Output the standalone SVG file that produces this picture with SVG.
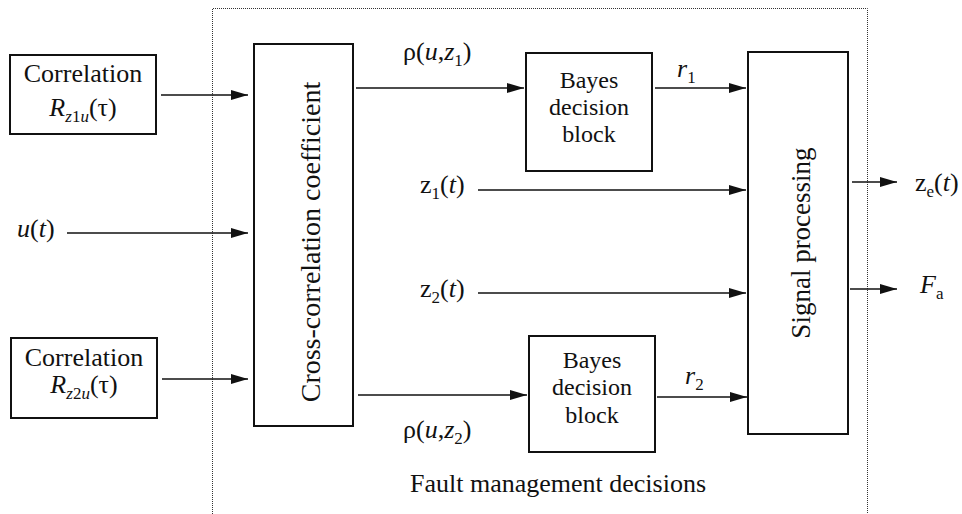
<svg xmlns="http://www.w3.org/2000/svg" width="962" height="514" viewBox="0 0 962 514">
<style>
.t26{font-size:26px;}
.t24{font-size:24px;}
.it{font-style:italic;}
.sub{font-size:17px;}
.box{fill:#fff;stroke:#111;stroke-width:2;}
.con{stroke:#111;stroke-width:1.4;fill:none;marker-end:url(#ah);}
.frame{stroke:#333;stroke-width:1;fill:none;stroke-dasharray:1 1;}
</style>
<defs>
<marker id="ah" markerUnits="userSpaceOnUse" markerWidth="17" markerHeight="10" refX="17" refY="5" orient="auto">
<path d="M0,0 L17,5 L0,10 Z" fill="#111"/>
</marker>
</defs>
<g font-family="'Liberation Serif', 'Times New Roman', Times, serif" fill="#111">
<g id="frame">
<path class="frame" d="M212.5,514 V8.5 H867.5 V514"/>
<text class="t26" x="558" y="492" text-anchor="middle">Fault management decisions</text>
</g>
<g id="connectors">
<line class="con" x1="161" y1="95" x2="248" y2="95"/>
<line class="con" x1="67" y1="233" x2="248" y2="233"/>
<line class="con" x1="162" y1="379" x2="248" y2="379"/>
<line class="con" x1="356" y1="88" x2="524" y2="88"/>
<line class="con" x1="655" y1="88" x2="746" y2="88"/>
<line class="con" x1="478" y1="190" x2="746" y2="190"/>
<line class="con" x1="478" y1="293" x2="746" y2="293"/>
<line class="con" x1="358" y1="395" x2="527" y2="395"/>
<line class="con" x1="657" y1="397" x2="747" y2="397"/>
<line class="con" x1="852" y1="182" x2="897" y2="182"/>
<line class="con" x1="850" y1="289" x2="897" y2="289"/>
</g>
<g id="corr1">
<rect class="box" x="10" y="55" width="146" height="79"/>
<text class="t26" x="83" y="82" text-anchor="middle">Correlation</text>
<text class="t26" x="83" y="116" text-anchor="middle"><tspan class="it">R</tspan><tspan class="sub it" dy="6">z</tspan><tspan class="sub">1</tspan><tspan class="sub it">u</tspan><tspan dy="-6">(τ)</tspan></text>
</g>
<g id="corr2">
<rect class="box" x="11" y="338" width="146" height="80"/>
<text class="t26" x="84" y="366" text-anchor="middle">Correlation</text>
<text class="t26" x="84" y="393" text-anchor="middle"><tspan class="it">R</tspan><tspan class="sub it" dy="6">z</tspan><tspan class="sub">2</tspan><tspan class="sub it">u</tspan><tspan dy="-6">(τ)</tspan></text>
</g>
<g id="input-u">
<text class="t26" x="17" y="237"><tspan class="it">u</tspan>(<tspan class="it">t</tspan>)</text>
</g>
<g id="crosscorr">
<rect class="box" x="254" y="44" width="99" height="382"/>
<text x="320" y="242" text-anchor="middle" transform="rotate(-90 320 242)" font-size="28">Cross-correlation coefficient</text>
</g>
<g id="bayes1">
<rect class="box" x="526" y="53" width="126" height="118"/>
<text class="t24" x="589" y="88" text-anchor="middle">Bayes</text>
<text class="t24" x="589" y="115" text-anchor="middle">decision</text>
<text class="t24" x="589" y="142" text-anchor="middle">block</text>
</g>
<g id="bayes2">
<rect class="box" x="529" y="336" width="126" height="116"/>
<text class="t24" x="592" y="368" text-anchor="middle">Bayes</text>
<text class="t24" x="592" y="395" text-anchor="middle">decision</text>
<text class="t24" x="592" y="423" text-anchor="middle">block</text>
</g>
<g id="signalproc">
<rect class="box" x="748" y="52" width="100" height="382"/>
<text x="810" y="243" text-anchor="middle" transform="rotate(-90 810 243)" font-size="27">Signal processing</text>
</g>
<g id="labels">
<text class="t26" x="403" y="60">ρ(<tspan class="it">u</tspan>,<tspan class="it">z</tspan><tspan class="sub" dy="6">1</tspan><tspan dy="-6">)</tspan></text>
<text class="t26" x="403" y="438">ρ(<tspan class="it">u</tspan>,<tspan class="it">z</tspan><tspan class="sub" dy="6">2</tspan><tspan dy="-6">)</tspan></text>
<text class="t26" x="420" y="193">z<tspan class="sub" dy="6">1</tspan><tspan dy="-6">(</tspan><tspan class="it">t</tspan>)</text>
<text class="t26" x="420" y="297">z<tspan class="sub" dy="6">2</tspan><tspan dy="-6">(</tspan><tspan class="it">t</tspan>)</text>
<text class="t26" x="677" y="77"><tspan class="it">r</tspan><tspan class="sub" dy="6">1</tspan></text>
<text class="t26" x="685" y="384"><tspan class="it">r</tspan><tspan class="sub" dy="6">2</tspan></text>
<text class="t26" x="915" y="191">z<tspan class="sub" dy="6">e</tspan><tspan dy="-6">(</tspan><tspan class="it">t</tspan>)</text>
<text class="t26" x="920" y="293"><tspan class="it">F</tspan><tspan class="sub" dy="6">a</tspan></text>
</g>
</g>
</svg>
